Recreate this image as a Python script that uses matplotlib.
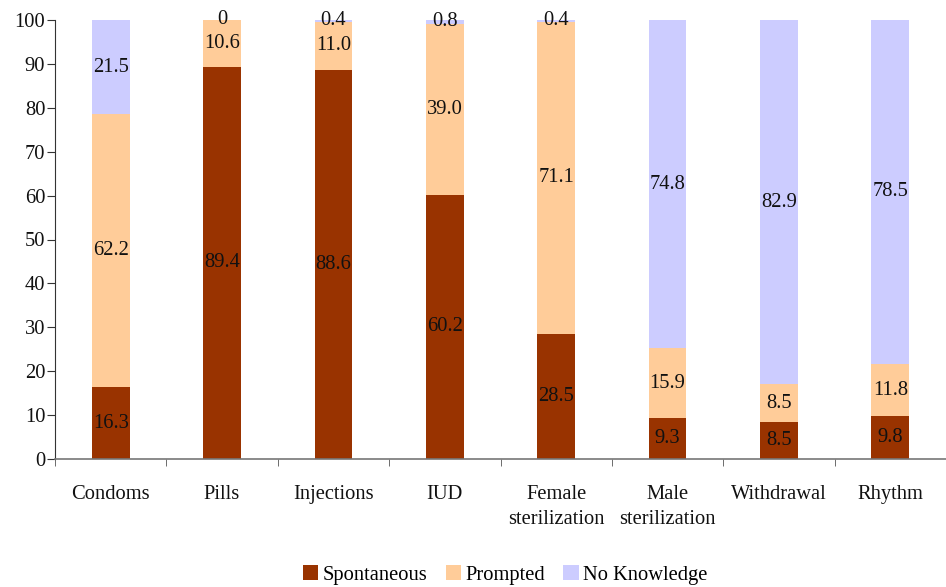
import matplotlib
matplotlib.use("Agg")
import matplotlib.pyplot as plt
import numpy as np

categories = ["Condoms", "Pills", "Injections", "IUD", "Female\nsterilization",
              "Male\nsterilization", "Withdrawal", "Rhythm"]
spontaneous = [16.3, 89.4, 88.6, 60.2, 28.5, 9.3, 8.5, 9.8]
prompted = [62.2, 10.6, 11.0, 39.0, 71.1, 15.9, 8.5, 11.8]
no_knowledge = [21.5, 0, 0.4, 0.8, 0.4, 74.8, 82.9, 78.5]

series = [("Spontaneous", spontaneous, "#993300"),
          ("Prompted", prompted, "#FFCC99"),
          ("No Knowledge", no_knowledge, "#CCCCFF")]

plt.rcParams['font.family'] = ['Liberation Serif', 'DejaVu Serif']
FS = 14.8

fig = plt.figure(figsize=(9.46, 5.87), dpi=100)
ax = fig.add_axes([55/946, 128/587, 891/946, 439/587])

x = np.arange(len(categories))
bottom = np.zeros(len(categories))
for name, vals, col in series:
    vals = np.array(vals, dtype=float)
    ax.bar(x, vals, width=0.34, bottom=bottom, color=col, label=name, zorder=2)
    for xi, b, v in zip(x, bottom, vals):
        y = b + v / 2
        ax.text(xi, y, f"{v:.1f}" if v != 0 else "0", ha="center", va="center",
                fontsize=FS, color="#111111", zorder=3)
    bottom = bottom + vals

ax.set_xlim(-0.5, len(categories) - 0.5)
ax.set_ylim(0, 100)
ax.set_yticks(np.arange(0, 101, 10))
ax.set_xticks(x)
ax.set_xticklabels(categories, fontsize=FS, va="top", linespacing=1.4, color="#111111")
ax.set_xticks(np.arange(-0.5, len(categories), 1), minor=True)
ax.tick_params(axis="x", which="major", length=0, pad=19)
ax.tick_params(axis="x", which="minor", length=5, color="#555555")
ax.tick_params(axis="y", length=6, color="#333333", labelsize=FS, pad=1, labelcolor="#111111")
ax.spines["top"].set_visible(False)
ax.spines["right"].set_visible(False)
ax.spines["left"].set_color("#333333")
ax.spines["bottom"].set_color("#777777")
ax.spines["bottom"].set_linewidth(1.2)

fig.legend(loc="center", bbox_to_anchor=(505/946, 1 - 575/587), ncol=3, frameon=False,
           fontsize=FS, handlelength=0.75, handleheight=0.75, handletextpad=0.2,
           columnspacing=0.9)

fig.savefig("out.png", dpi=100)
